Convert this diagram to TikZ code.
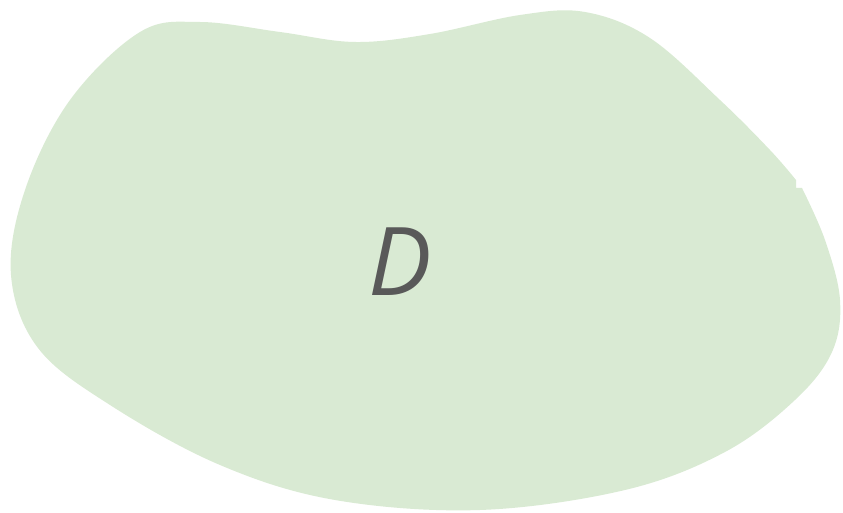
\documentclass[tikz,border=0pt]{standalone}
\usepackage{fontspec}
\newfontfamily\labelfont{Open Sans}
\definecolor{blobgreen}{HTML}{D9EAD3}
\definecolor{labelgray}{HTML}{595959}

\begin{document}
\begin{tikzpicture}[
  x=0.02cm,
  y=-0.02cm,
  region/.style={fill=blobgreen,draw=none},
  region label/.style={font=\labelfont\itshape\fontsize{54}{60}\selectfont,text=labelgray,inner sep=0pt},
]
\useasboundingbox (0,0) rectangle (843,513);
\fill[region] plot[smooth,tension=0.6] coordinates {
  (802,188) (825,240) (840,300) (832,352) (795,400) (725,452) (625,490)
  (480,510) (335,500) (220,465) (110,405) (38,348) (11,275) (25,190)
  (70,100) (140,32) (200,22) (280,32) (355,42) (430,34) (520,15)
  (585,12) (650,38) (720,100) (770,150) (796,180)}
  -- (796,188) -- cycle;
\node[region label] (D) at (400,262) {D};
\end{tikzpicture}
\end{document}
